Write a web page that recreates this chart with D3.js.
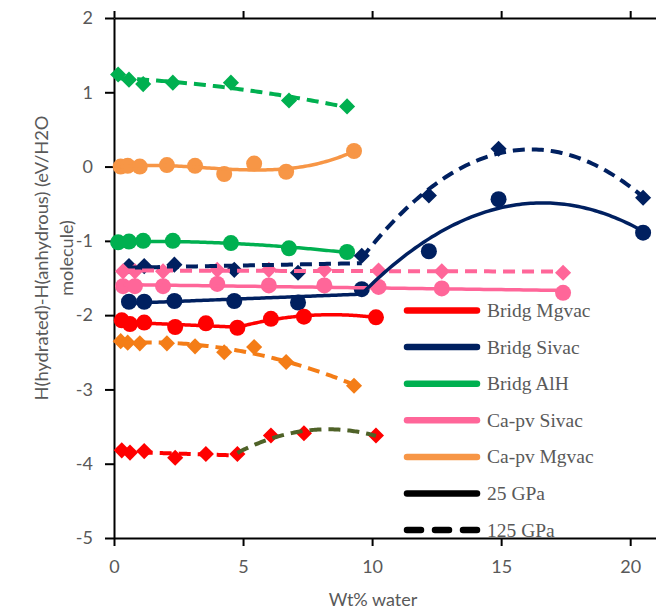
<!DOCTYPE html>
<html lang="en">
<head>
<meta charset="UTF-8">
<script src="https://cdn.jsdelivr.net/npm/d3@7"></script>
<style>
  body { margin: 0; background: #fff; }
  .tick text { font-family: Lato, "Open Sans", sans-serif; font-size: 18px; fill: #595959; }
  .axis-title { font-family: Lato, "Open Sans", sans-serif; font-size: 18px; fill: #595959; }
  .legend text { font-family: "Liberation Serif", "DejaVu Serif", serif; font-size: 19.5px; fill: #595959; }
</style>
</head>
<body>
<svg id="chart"></svg>
<script>
// x positions (wt% water) for each group of compositions
var xAlH    = [0.16, 0.58, 1.13, 2.28, 4.53, 6.78, 9.03];
var xCaMg   = [0.26, 0.53, 1.0, 2.05, 3.14, 4.27, 5.43, 6.67, 9.3];
var xMg     = [0.3, 0.62, 1.17, 2.37, 3.56, 4.78, 6.08, 7.36, 10.15];
var xSi     = [0.58, 1.17, 2.34, 4.66, 7.13, 9.6, 12.2, 14.9, 20.5];
var xCaSi   = [0.35, 0.81, 1.9, 4.0, 6.0, 8.15, 10.25, 12.7, 17.4];

// enthalpy differences (eV / H2O molecule)
var alh25    = [-1.02, -1.01, -1.0, -1.0, -1.03, -1.10, -1.15];
var alh125   = [1.24, 1.17, 1.11, 1.13, 1.13, 0.89, 0.81];
var caMg25   = [0.0, 0.01, 0.0, 0.02, 0.01, -0.1, 0.04, -0.07, 0.21];
var caMg125  = [-2.35, -2.37, -2.38, -2.38, -2.42, -2.50, -2.43, -2.63, -2.95];
var mg25     = [-2.07, -2.12, -2.10, -2.16, -2.11, -2.17, -2.05, -2.02, -2.03];
var mg125    = [-3.82, -3.85, -3.83, -3.92, -3.87, -3.87, -3.62, -3.59, -3.62];
var si25     = [-1.82, -1.82, -1.81, -1.81, -1.83, -1.65, -1.14, -0.44, -0.89];
var si125    = [-1.34, -1.34, -1.32, -1.39, -1.43, -1.2, -0.39, 0.24, -0.42];
var caSi25   = [-1.61, -1.61, -1.61, -1.58, -1.6, -1.6, -1.62, -1.64, -1.70];
var caSi125  = [-1.41, -1.41, -1.41, -1.39, -1.39, -1.39, -1.40, -1.41, -1.43];

var legendNames = ["Bridg Mgvac", "Bridg Sivac", "Bridg AlH", "Ca-pv Sivac", "Ca-pv Mgvac", "25 GPa", "125 GPa"];
var xTicks = [0, 5, 10, 15, 20];
var yTicks = [-5, -4, -3, -2, -1, 0, 1, 2];

var RED = "#ff0000", NAVY = "#002060", GREEN = "#00b050", PINK = "#ff6699",
    ORANGE = "#f79646", ORANGE2 = "#f47d17", OLIVE = "#4f6228";

// trendline segments: [from index, to index, polynomial degree, colour]
var series = [
  {x: xAlH,  y: alh125,  marker: "diamond", color: GREEN,   dash: true,  fits: [[0, 6, 2, GREEN]]},
  {x: xCaMg, y: caMg25,  marker: "circle",  color: ORANGE,  dash: false, fits: [[0, 8, 3, ORANGE]]},
  {x: xAlH,  y: alh25,   marker: "circle",  color: GREEN,   dash: false, fits: [[0, 6, 2, GREEN]]},
  {x: xSi,   y: si125,   marker: "diamond", color: NAVY,    dash: true,  fits: [[0, 5, 1, NAVY], [5, 8, 2, NAVY]]},
  {x: xCaSi, y: caSi125, marker: "diamond", color: PINK,    dash: true,  fits: [[0, 8, 1, PINK]]},
  {x: xCaSi, y: caSi25,  marker: "circle",  color: PINK,    dash: false, fits: [[0, 8, 1, PINK]]},
  {x: xSi,   y: si25,    marker: "circle",  color: NAVY,    dash: false, fits: [[0, 5, 1, NAVY], [5, 8, 2, NAVY]]},
  {x: xMg,   y: mg25,    marker: "circle",  color: RED,     dash: false, fits: [[0, 5, 1, RED], [5, 8, 2, RED]]},
  {x: xCaMg, y: caMg125, marker: "diamond", color: ORANGE2, dash: true,  fits: [[0, 8, 2, ORANGE2]]},
  {x: xMg,   y: mg125,   marker: "diamond", color: RED,     dash: true,  fits: [[0, 5, 1, RED], [5, 8, 2, OLIVE]]}
];

// least squares polynomial fit, returns function
function polyfit(xs, ys, deg) {
  var mx = d3.mean(xs);
  var n = deg + 1, A = [], b = [];
  for (var i = 0; i < n; i++) { A.push(new Array(n).fill(0)); b.push(0); }
  xs.forEach(function(xv, k) {
    var t = xv - mx;
    for (var i = 0; i < n; i++) {
      for (var j = 0; j < n; j++) A[i][j] += Math.pow(t, i + j);
      b[i] += ys[k] * Math.pow(t, i);
    }
  });
  // gaussian elimination
  for (var c = 0; c < n; c++) {
    var p = c;
    for (var r = c + 1; r < n; r++) if (Math.abs(A[r][c]) > Math.abs(A[p][c])) p = r;
    var tmp = A[c]; A[c] = A[p]; A[p] = tmp;
    var tb = b[c]; b[c] = b[p]; b[p] = tb;
    for (var r = c + 1; r < n; r++) {
      var f = A[r][c] / A[c][c];
      for (var j = c; j < n; j++) A[r][j] -= f * A[c][j];
      b[r] -= f * b[c];
    }
  }
  var coef = new Array(n).fill(0);
  for (var i = n - 1; i >= 0; i--) {
    var s = b[i];
    for (var j = i + 1; j < n; j++) s -= A[i][j] * coef[j];
    coef[i] = s / A[i][i];
  }
  return function(xv) {
    var t = xv - mx, s = 0;
    for (var i = 0; i < n; i++) s += coef[i] * Math.pow(t, i);
    return s;
  };
}

var W = 656, H = 615;
var svg = d3.select("#chart").attr("width", W).attr("height", H);

var x = d3.scaleLinear().domain([0, 21]).range([114, 656]);
var y = d3.scaleLinear().domain([-5, 2]).range([538, 18]);
var fmt = function(d) { return String(d); };

// axes
var gx = svg.append("g").attr("transform", "translate(0,538)")
  .call(d3.axisBottom(x).tickValues(xTicks).tickFormat(fmt).tickSizeInner(8).tickSizeOuter(0).tickPadding(14));
var gTop = svg.append("g").attr("transform", "translate(0,18)")
  .call(d3.axisTop(x).tickValues(xTicks).tickSizeInner(7).tickSizeOuter(0).tickFormat(""));
var gy = svg.append("g").attr("transform", "translate(114,0)")
  .call(d3.axisLeft(y).tickValues(yTicks).tickFormat(fmt).tickSizeInner(9).tickSizeOuter(0).tickPadding(12));
[gx, gTop, gy].forEach(function(g) {
  g.select(".domain").attr("stroke", "#000").attr("stroke-width", 2);
  g.selectAll(".tick line").attr("stroke", "#000").attr("stroke-width", 2);
});

// markers
var diamond = d3.symbol().type(d3.symbolSquare).size(130);
series.forEach(function(s) {
  var pts = s.x.map(function(xv, i) { return [xv, s.y[i]]; });
  var g = svg.append("g");
  if (s.marker === "circle") {
    g.selectAll("circle").data(pts).enter().append("circle")
      .attr("cx", function(d) { return x(d[0]); })
      .attr("cy", function(d) { return y(d[1]); })
      .attr("r", 8)
      .attr("fill", s.color);
  } else {
    g.selectAll("path").data(pts).enter().append("path")
      .attr("d", diamond)
      .attr("transform", function(d) { return "translate(" + x(d[0]) + "," + y(d[1]) + ") rotate(45)"; })
      .attr("fill", s.color);
  }
});

// trendlines on top of markers
var line = d3.line().x(function(d) { return x(d[0]); }).y(function(d) { return y(d[1]); });
series.forEach(function(s) {
  s.fits.forEach(function(f) {
    var xs = s.x.slice(f[0], f[1] + 1), ys = s.y.slice(f[0], f[1] + 1);
    var fn = polyfit(xs, ys, f[2]);
    var x0 = xs[0], x1 = xs[xs.length - 1];
    var pts = d3.range(0, 101).map(function(i) { var xv = x0 + (x1 - x0) * i / 100; return [xv, fn(xv)]; });
    svg.append("path").datum(pts)
      .attr("d", line)
      .attr("fill", "none")
      .attr("stroke", f[3])
      .attr("stroke-width", s.dash ? 4 : 3.5)
      .attr("stroke-dasharray", s.dash ? "12,7" : null);
  });
});

// axis titles
svg.append("text").attr("class", "axis-title")
  .attr("x", 373).attr("y", 606).attr("text-anchor", "middle").text("Wt% water");
var yl = svg.append("g").attr("transform", "translate(0,258) rotate(-90)");
yl.append("text").attr("class", "axis-title").attr("text-anchor", "middle")
  .attr("x", 0).attr("y", 48)
  .attr("textLength", 285).attr("lengthAdjust", "spacingAndGlyphs")
  .text("H(hydrated)-H(anhydrous) (eV/H2O");
yl.append("text").attr("class", "axis-title").attr("text-anchor", "middle")
  .attr("x", 0).attr("y", 73)
  .text("molecule)");

// legend
var legColors = [RED, NAVY, GREEN, PINK, ORANGE, "#000", "#000"];
var leg = svg.append("g").attr("class", "legend");
legendNames.forEach(function(name, i) {
  var ly = 310.5 + i * 36.6;
  leg.append("line")
    .attr("x1", 407).attr("x2", 477).attr("y1", ly).attr("y2", ly)
    .attr("stroke", legColors[i]).attr("stroke-width", 6.5)
    .attr("stroke-linecap", "round")
    .attr("stroke-dasharray", i === 6 ? "14,14" : null);
  leg.append("text").attr("x", 487).attr("y", ly + 6.5).text(name);
});
</script>
</body>
</html>
